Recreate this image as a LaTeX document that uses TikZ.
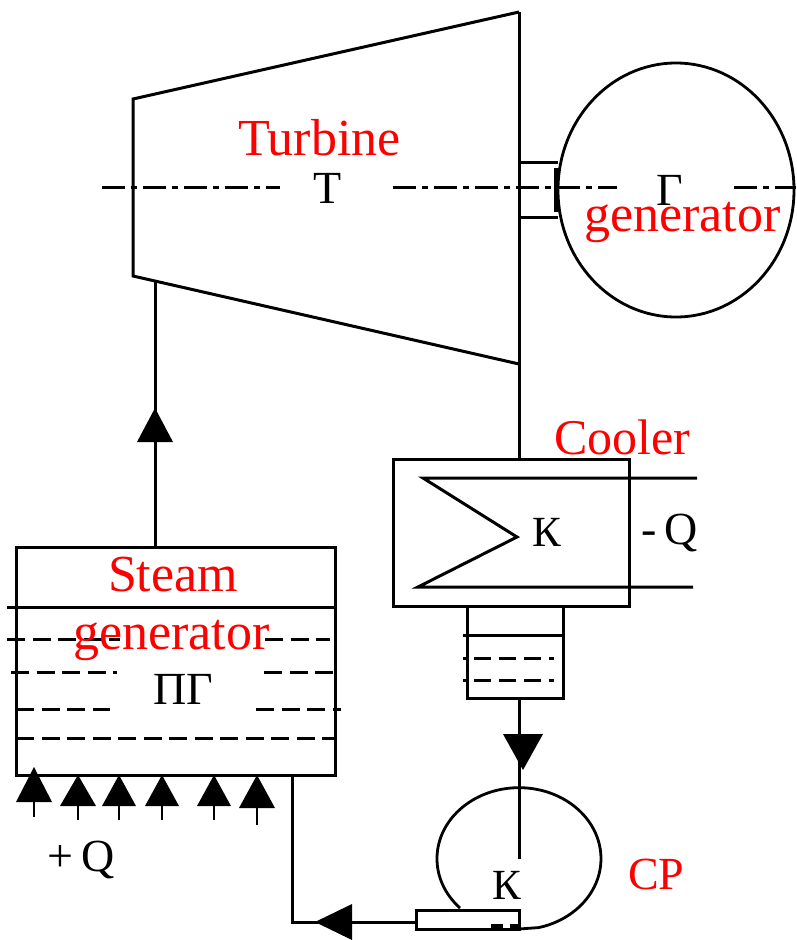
\documentclass[tikz,border=0pt]{standalone}
\usepackage{fontspec}
\usetikzlibrary{shapes.geometric}
\setmainfont{Liberation Serif}
\tikzset{
  px/.style={x=1pt,y=-1pt},
  ln/.style={draw=black,line width=3pt,line join=miter},
  thin ln/.style={draw=black,line width=2.8pt},
  dash ln/.style={draw=black,line width=3pt,dash pattern=on 18pt off 7.5pt},
  center ln/.style={draw=black,line width=3pt,dash pattern=on 23pt off 6pt on 6pt off 6pt},
  tri/.style={fill=black,draw=none},
  boxnode/.style={draw=black,line width=3pt,rectangle,inner sep=0pt,outer sep=0pt,anchor=north west},
  redlab/.style={text=red,inner sep=0pt,outer sep=0pt,anchor=base west,font=\fontsize{52}{52}\selectfont},
  coollab/.style={redlab,font=\fontsize{50}{50}\selectfont},
  cplab/.style={redlab,font=\fontsize{46}{46}\selectfont},
  blacklab/.style={text=black,inner sep=0pt,outer sep=0pt,anchor=center,font=\fontsize{46}{46}\selectfont},
  smalllab/.style={blacklab,font=\fontsize{43}{43}\selectfont},
}
\begin{document}
\begin{tikzpicture}[px]
\useasboundingbox[fill=white] (0,0) rectangle (796,940);

% Turbine
\coordinate (tl) at (133,99);
\coordinate (tr) at (519,12);
\coordinate (bl) at (133,276);
\coordinate (br) at (519,364);
\coordinate (shaftdown) at (519,459);
\draw[ln] (tr) -- (tl) -- (bl) -- (br);

% Generator
\node[draw=black,line width=2.8pt,ellipse,minimum width=236pt,minimum height=254pt,inner sep=0pt,outer sep=0pt] (gen) at (676,190) {};
\draw[ln] (519,162) -- (558,162) (519,217) -- (558,217);
\draw[draw=black,line width=5pt] (556,168) -- (556,212);

% Centre line
\draw[center ln] (102,187) -- (280,187);
\draw[center ln] (393,187) -- (617,187);
\draw[center ln] (734,187) -- (796,187);

% Cooler
\node[boxnode,minimum width=236pt,minimum height=147pt] (cooler) at (393,459) {};
\node[boxnode,minimum width=96pt,minimum height=92pt] (well) at (467,606) {};
\draw[ln] (tr) -- (shaftdown);
\coordinate (ctop) at (423,478);
\coordinate (cend) at (697,478);
\coordinate (capex) at (517,537);
\coordinate (cbot) at (418,587);
\coordinate (cend2) at (693,587);
\draw[ln] (cend) -- (ctop) -- (capex) -- (cbot) -- (cend2);
\draw[ln] (463,635) -- (563,635);
\draw[dash ln,dash pattern=on 5pt off 6pt on 17pt off 8pt on 17pt off 8pt on 17pt off 8pt] (463,658) -- (555,658);
\draw[dash ln,dash pattern=on 5pt off 6pt on 17pt off 8pt on 17pt off 8pt on 17pt off 8pt] (463,680) -- (555,680);

% Condensate pump
\node[boxnode,minimum width=103pt,minimum height=19pt] (pumpbox) at (416,910) {};
\coordinate (pumpin) at (519,859);
\draw[ln] (well.south -| pumpin) -- (pumpin);
\draw[tri] (503,734) -- (543,734) -- (523,770) -- cycle;
\draw[thin ln] (460,908) arc[start angle=136,end angle=436,x radius=82,y radius=71] -- (519,929);
\fill[black] (491,924) rectangle (503,930);
\fill[black] (510,924) rectangle (520,930);

% Steam generator
\node[boxnode,minimum width=319pt,minimum height=228pt] (sg) at (16,547) {};
\draw[ln] (7,607) -- (335,607);
\draw[dash ln] (7,639) -- (120,639);
\draw[dash ln] (265,639) -- (330,639);
\draw[dash ln] (11,672) -- (117,672);
\draw[dash ln] (264,672) -- (335,672);
\draw[dash ln] (16,709) -- (110,709);
\draw[dash ln] (256,709) -- (341,709);
\draw[dash ln] (16,738) -- (335,738);

% Steam pipe
\coordinate (steamtop) at (155,281);
\draw[ln] (steamtop) -- (steamtop |- sg.north);
\draw[tri] (137,442) -- (173,442) -- (155,408) -- cycle;

% Feed pipe
\coordinate (fa) at (292,775);
\coordinate (fb) at (292,922);
\draw[ln] (fa) -- (fb) -- (fb -| pumpbox.west);
\draw[tri] (352,904) -- (352,940) -- (315,922) -- cycle;

% Heat arrows
\foreach \hx/\htip/\hbase/\htail/\hw in {34/767/802/817/18, 78/775/806/820/18, 119/775/806/820/17, 162/775/806/820/17, 214/775/806/820/17, 257/775/808/825/18}{
  \draw[thin ln] (\hx,\hbase) -- (\hx,\htail);
  \draw[tri] (\hx-\hw,\hbase) -- (\hx+\hw,\hbase) -- (\hx,\htip) -- cycle;
}

% Black labels
\node[blacklab] (tT) at (328,188) {Т};
\node[blacklab] (tG) at (670,190) {Г};
\node[blacklab] (tPG) at (183,689) {ПГ};
\node[smalllab] (tK1) at (547,532) {К};
\node[smalllab] (tK2) at (507,885) {К};
\node[blacklab] (tpQ) at (81,860) {+\,Q};
\node[blacklab] (tmQ) at (670,533) {-\,Q};

% Red labels
\node[redlab] (lTurbine) at (238,155) {Turbine};
\node[redlab] (lGen) at (584,231) {generator};
\node[coollab] (lCooler) at (554,454) {Cooler};
\node[redlab] (lSteam) at (108,591) {Steam};
\node[redlab] (lSG) at (73,649) {generator};
\node[cplab] (lCP) at (628,889) {CP};
\end{tikzpicture}
\end{document}
